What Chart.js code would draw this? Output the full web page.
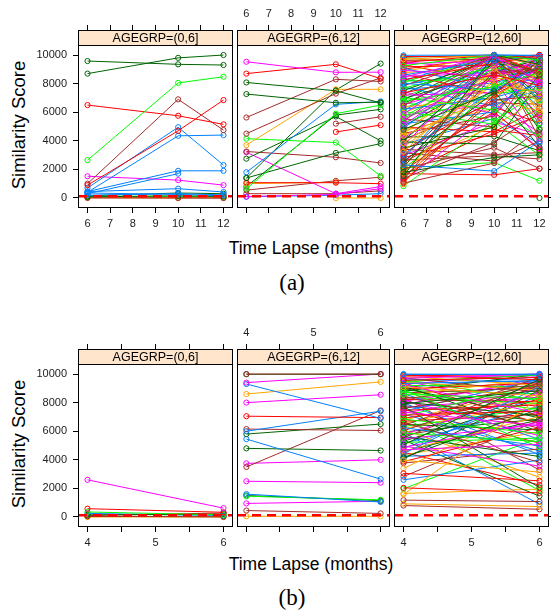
<!DOCTYPE html>
<html>
<head>
<meta charset="utf-8">
<script src="https://cdn.jsdelivr.net/npm/chart.js@4.4.1/dist/chart.umd.min.js"></script>
<style>
  body { margin: 0; background: #fff; }
  #page { position: relative; width: 551px; height: 616px; overflow: hidden; font-family: "Liberation Sans", Arial, sans-serif; }
  #page canvas { position: absolute; }
  .t { position: absolute; white-space: nowrap; line-height: 1; color: #000; transform: translate(-50%, -50%); }
  .yt { transform: translate(-50%, -50%) rotate(-90deg); }
  .cap { font-family: "Liberation Serif", "Times New Roman", serif; }
</style>
</head>
<body>
<div id="page">
  <div class="t yt" style="left:19px;top:125px;font-size:18.5px">Similarity Score</div>
  <div class="t" style="left:311px;top:249px;font-size:17.5px">Time Lapse (months)</div>
  <div class="t cap" style="left:292px;top:282px;font-size:23px">(a)</div>
  <div class="t yt" style="left:19px;top:444px;font-size:18.5px">Similarity Score</div>
  <div class="t" style="left:311px;top:565px;font-size:17.5px">Time Lapse (months)</div>
  <div class="t cap" style="left:292px;top:597px;font-size:23px">(b)</div>
</div>
<script>
// ---- data ----
const monthsA = [6, 10, 12];
const monthsB = [4, 6];
const groups = ["AGEGRP=(0,6]", "AGEGRP=(6,12]", "AGEGRP=(12,60]"];
const yTicks = [0, 2000, 4000, 6000, 8000, 10000];
const xTicksA = [6, 7, 8, 9, 10, 11, 12];
const xTicksB = [4, 4.5, 5, 5.5, 6];
const cutoff = 120;

// (a) AGEGRP=(0,6]
const scoresA1 = [
  [9580, 9350, 9300], [8700, 9800, 10000], [2650, 8050, 8480], [6500, 5750, 5150],
  [1000, 6900, 4750], [900, 4700, 6850], [700, 4950, 2300], [400, 4350, 4400],
  [450, 1900, 1900], [300, 1700, null], [1520, 1250, 900], [450, 650, 420],
  [200, 300, 220], [80, 150, 100], [350, 250, 150], [0, 0, 0],
  [20, 0, 30], [150, 350, 300], [50, 20, 0], [100, 120, 60]
];
const coloursA1 = "DDGRNRBBBBMBBDBNODNG";

// (a) AGEGRP=(6,12]
const scoresA2 = [
  [9530, 8790, 8800], [8700, 9350, 8350], [8080, 7500, 6650], [7270, 6660, 6700],
  [5630, 8300, 8150], [4500, 7300, 8400], [3700, 7600, 7600], [4150, 3880, 1550],
  [1800, 6550, 6750], [650, 5900, 6500], [2750, 5700, 4000], [1400, 3150, 3800],
  [1400, 7550, 9400], [3250, 2850, 2450], [3200, 300, 800], [null, 4620, 5100],
  [null, 5200, 5680], [1070, 1070, 1000], [1000, 1100, null], [null, 0, 0],
  [550, 1200, 1450], [100, 250, 650], [80, 200, 300], [800, 5800, 6200], [300, 300, 500]
];
const coloursA2 = "MRDDNNOGBGDDDNMRNROONMBDN";

// (a) AGEGRP=(12,60]
const scoresA3 = [
  [9980, 10000, 9950], [5870, 10000, 7260], [1540, 10000, 9340], [7350, 8610, 7860],
  [3240, 9030, 6690], [9260, 10000, 9650], [6450, 10000, 8630], [2310, 1880, 3960],
  [8440, 10000, 8110], [4780, 7470, 3560], [1120, 7210, 9980], [9700, 10000, 9300],
  [6790, 7790, 8770], [2900, 8780, 9060], [8020, 7560, 9220], [5450, 8930, 8060],
  [1800, 2830, 3020], [9480, 10000, 8790], [3840, 7910, 7430], [7030, 6150, 4310],
  [1290, 8690, 8960], [8600, 9630, 6930], [5110, 9290, 5690], [2560, 7380, 9590],
  [9900, 9850, 10000], [4350, 7160, 8750], [7690, 9180, 4920], [2050, 3520, 2060],
  [6200, 7020, 7930], [8930, 8490, 9400], [3500, 4960, 8620], [9170, 9300, 8330],
  [1710, 8370, 8290], [5700, 9060, 8980], [7850, 10000, 9760], [2730, 9860, 7790],
  [6540, 8270, 3940], [4010, 9470, 4760], [8270, 9420, 9990], [960, 9090, 6220],
  [5280, 7290, 7650], [9620, 9710, 10000], [3070, 7620, 8430], [7190, 7370, 9040],
  [2140, 9660, 8860], [8690, 7210, 8870], [4610, 8940, 7020], [6040, 5160, 8520],
  [1460, 6870, 7110], [9080, 7640, 9780], [3670, 10000, 9280], [7520, 9740, 7140],
  [2480, 6010, 3390], [5960, 8390, 9360], [8180, 8330, 5890], [1040, 2440, 4820],
  [4860, 9820, 9730], [9400, 9560, 9940], [6950, 8820, 9690], [3330, 6890, 9610],
  [8850, 10000, 7720], [1970, 7740, 9770], [5530, 4970, 9580], [7770, 6420, 8240],
  [4180, 8460, 9860], [9850, 10000, 9700], [2820, 4480, 5810], [6370, 6940, 6050],
  [8100, 9950, 8690], [1370, 3880, 5960], [5190, 6020, 9130], [7430, 5880, 9470],
  [3920, 3760, 8190], [9010, 9880, 8560], [2220, 5050, 6980], [6700, 5420, 7380],
  [4520, 5740, 9470], [8360, 6780, 7490], [1210, 5970, 3470], [5030, 8540, 8850],
  [9330, 8120, 9120], [3580, 8120, 5520], [7100, 9250, 8410], [2650, 2960, 2730],
  [6110, 9510, 5170], [8510, 8730, 9560], [4270, 4310, 3310], [1880, 6350, 5240],
  [9760, 9420, 9880], [5620, 7830, 6840], [3160, 2580, 3980], [7610, 8040, 8950],
  [2390, 8860, 8040], [6870, 9960, 6720], [4950, 4630, 6270], [8770, 9090, 9890],
  [830, 5340, 2980], [5360, 10000, 4150], [3750, 5570, 3790], [9540, 8850, 9460],
  [7280, 10000, 5430], [1630, 4760, 4370], [4690, 6290, 8340], [6280, 8690, 9920],
  [3410, 3040, 3170], [8230, 10000, 9980], [2990, 5310, 4440], [6620, 9370, 9210],
  [1700, 1620, 2050], [4440, 10000, 5930], [2100, 2480, 1210], [4090, 6660, 6560],
  [7940, 8960, 6380], [5790, 6570, 4580], [null, null, 0]
];

// (b) AGEGRP=(0,6]
const scoresB1 = [
  [2600, 620], [580, 330], [350, 150], [150, 200], [250, 100],
  [50, 0], [0, 0], [100, 280], [30, 50]
];
const coloursB1 = "MRGDBNORD";

// (b) AGEGRP=(6,12]
const scoresB2 = [
  [10000, 10000], [9980, 9980], [9400, 10000], [9300, 6900], [8600, 9450],
  [8000, 8550], [7050, 6950], [6000, 7400], [6150, 6050], [5800, 6500],
  [5450, 2650], [4800, 4650], [3500, 7450], [3750, 4000], [2500, 2400],
  [1600, 1050], [1450, 1200], [1500, 1150], [950, 1100], [450, 250], [50, 50]
];
const coloursB2 = "NDMBOMRBNDBDNMMBGDMNO";

// (b) AGEGRP=(12,60]
const scoresB3 = [
  [10000, 9950], [7330, 6390], [5050, 9630], [9560, 9760], [3970, 3140], [8570, 8290],
  [6620, 3820], [9960, 10000], [4700, 5080], [7920, 8840], [2040, 1690], [9100, 8470],
  [5870, 5270], [8280, 9260], [6250, 4980], [9700, 10000], [4160, 7560], [7120, 7410],
  [1580, 8330], [8900, 4870], [6020, 9410], [9340, 9550], [5460, 6460], [7720, 2060],
  [3050, 2530], [9830, 9210], [6840, 5840], [8450, 6210], [4430, 9110], [9250, 7260],
  [5630, 4230], [7460, 7840], [920, 730], [8740, 7520], [6400, 9780], [9650, 9420],
  [4880, 6630], [8040, 7080], [3870, 6260], [9430, 8880], [5220, 5520], [7590, 9170],
  [2600, 3980], [8160, 5680], [6480, 6090], [9920, 9600], [4610, 7030], [7050, 9340],
  [1180, 1080], [8630, 5430], [5790, 8690], [9150, 5980], [6910, 8180], [3400, 7880],
  [8390, 7940], [9740, 8730], [4250, 4470], [7260, 8950], [5380, 1460], [8950, 9380],
  [6180, 8020], [9470, 9930], [2830, 6780], [7980, 4360], [4960, 3560], [9010, 6930],
  [6700, 7190], [8510, 9670], [1980, 5540], [5550, 9220], [7400, 9640], [9290, 10000],
  [4060, 8870], [8220, 8060], [6100, 2780], [9610, 8150], [800, 540], [5130, 7750],
  [7660, 8390], [8790, 9990], [4520, 2240], [6550, 8570], [9200, 9120], [3770, 4760],
  [7190, 4620], [8100, 9490], [5950, 6840], [9870, 9980], [1650, 1950], [6980, 1850],
  [8340, 3290], [4790, 8490], [7850, 9710], [5300, 8260], [9380, 6540], [4340, 5960],
  [6330, 7620], [8680, 9030], [5900, 900], [9790, 9870], [4600, 6800], [7530, 5170],
  [6770, 9060], [8850, 8620], [5710, 7330], [9060, 9810], [9520, 7690], [7790, 6720]
];

// ---- drawing ----
const PAL = { B: "#0080ff", M: "#ff00ff", D: "#006400", R: "#ff0000", O: "#ffa500", G: "#00ff00", N: "#a52a2a" };
const CYCLE = "BMDROGN";
const PANEL_X = [78, 235, 392];
const PW = 157, PH = 178, STRIP = 15, AX = 25;
const page = document.getElementById("page");

const decor = {
  id: "decor",
  afterDatasetsDraw(chart, args, o) {
    const { ctx, chartArea: a, scales: { y } } = chart;
    const yc = y.getPixelForValue(cutoff);
    ctx.save();
    ctx.strokeStyle = "#ff0000";
    ctx.lineWidth = 2.5;
    ctx.setLineDash([9, 6]);
    ctx.beginPath(); ctx.moveTo(a.left, yc); ctx.lineTo(a.right, yc); ctx.stroke();
    ctx.setLineDash([]);
    ctx.fillStyle = "#ffe5cc";
    ctx.fillRect(a.left, a.top, a.right - a.left, STRIP);
    ctx.strokeStyle = "#000";
    ctx.lineWidth = 1;
    ctx.beginPath(); ctx.moveTo(a.left, a.top + STRIP + 0.5); ctx.lineTo(a.right, a.top + STRIP + 0.5); ctx.stroke();
    ctx.fillStyle = "#000";
    ctx.font = '12.5px "Liberation Sans", Arial, sans-serif';
    ctx.textAlign = "center";
    ctx.textBaseline = "middle";
    ctx.fillText(o.label, (a.left + a.right) / 2, a.top + STRIP / 2 + 1);
    ctx.strokeRect(a.left + 0.5, a.top + 0.5, a.right - a.left - 1, a.bottom - a.top - 1);
    ctx.restore();
  }
};

function xAxis(pos, ticks, range, labels) {
  return {
    type: "linear", position: pos, min: range[0], max: range[1],
    afterBuildTicks: (s) => { s.ticks = ticks.map((v) => ({ value: v })); },
    afterFit: (s) => { s.height = AX; },
    grid: { display: true, drawOnChartArea: false, drawTicks: true, tickLength: 5, color: "#000", lineWidth: 1 },
    border: { display: false },
    ticks: { display: labels, autoSkip: false, maxRotation: 0, minRotation: 0, padding: 4, color: "#222",
      font: { size: 11 }, callback: (v) => (Number.isInteger(v) ? String(v) : "") }
  };
}

function yAxis(pos, w, marks, labels) {
  return {
    type: "linear", position: pos, min: -700, max: 11750,
    afterBuildTicks: (s) => { s.ticks = yTicks.map((v) => ({ value: v })); },
    afterFit: (s) => { s.width = w; },
    grid: { display: marks, drawOnChartArea: false, drawTicks: true, tickLength: 5, color: "#000", lineWidth: 1 },
    border: { display: false },
    ticks: { display: labels, padding: 6, color: "#222", font: { size: 11 }, callback: (v) => String(v) }
  };
}

function panel(top, col, months, range, ticks, series, colours) {
  const wl = col === 0 ? 60 : 3;
  const wr = col === 2 ? 10 : 3;
  const cv = document.createElement("canvas");
  cv.width = wl + PW + wr;
  cv.height = AX * 2 + PH;
  cv.style.left = (PANEL_X[col] - wl) + "px";
  cv.style.top = (top - AX) + "px";
  page.appendChild(cv);

  const datasets = series.map((s, i) => {
    const c = PAL[colours ? colours[i] : CYCLE[i % CYCLE.length]];
    return {
      data: months.map((m, j) => ({ x: m, y: s[j] })).filter((p) => p.y !== null),
      borderColor: c, pointBorderColor: c, pointBackgroundColor: "rgba(0,0,0,0)",
      borderWidth: 1, pointRadius: 2.6, pointBorderWidth: 1, tension: 0, fill: false
    };
  });

  new Chart(cv, {
    type: "line",
    data: { datasets },
    options: {
      responsive: false, animation: false, devicePixelRatio: 1, events: [],
      layout: { padding: 0 },
      plugins: { legend: { display: false }, tooltip: { enabled: false }, decor: { label: groups[col] } },
      scales: {
        x: xAxis("bottom", ticks, range, col !== 1),
        x2: xAxis("top", ticks, range, col === 1),
        y: yAxis("left", wl, col === 0, col === 0),
        y2: yAxis("right", wr, col === 2, false)
      }
    },
    plugins: [decor]
  });
}

Chart.defaults.font.family = '"Liberation Sans", Arial, sans-serif';

const rangeA = [5.58, 12.42];
const rangeB = [3.86, 6.14];
panel(30, 0, monthsA, rangeA, xTicksA, scoresA1, coloursA1);
panel(30, 1, monthsA, rangeA, xTicksA, scoresA2, coloursA2);
panel(30, 2, monthsA, rangeA, xTicksA, scoresA3, null);
panel(349, 0, monthsB, rangeB, xTicksB, scoresB1, coloursB1);
panel(349, 1, monthsB, rangeB, xTicksB, scoresB2, coloursB2);
panel(349, 2, monthsB, rangeB, xTicksB, scoresB3, null);
</script>
</body>
</html>
